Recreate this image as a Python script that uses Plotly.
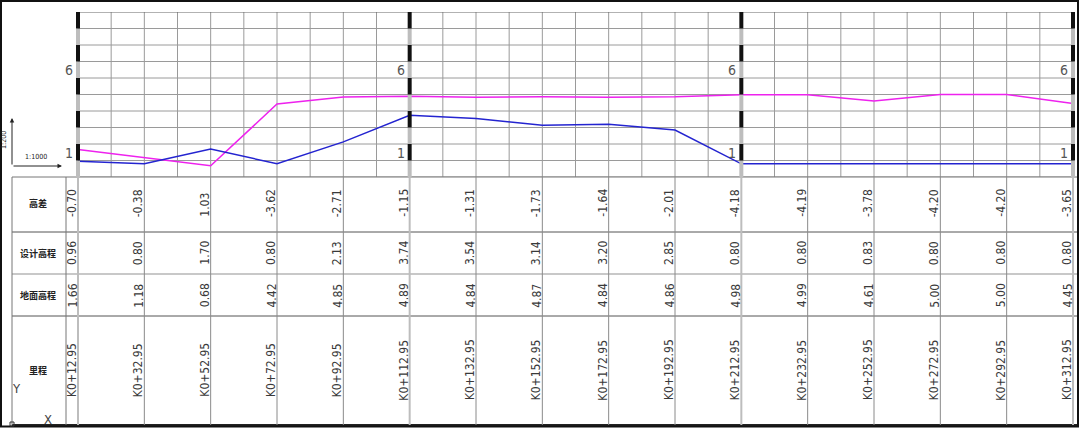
import plotly.graph_objects as go

# 纵断面图 (profile drawing) recreated in plotly

W, H = 1080, 428

stations = [12.95, 32.95, 52.95, 72.95, 92.95, 112.95, 132.95, 152.95,
            172.95, 192.95, 212.95, 232.95, 252.95, 272.95, 292.95, 312.95]
station_labels = ["K0+12.95", "K0+32.95", "K0+52.95", "K0+72.95", "K0+92.95",
                  "K0+112.95", "K0+132.95", "K0+152.95", "K0+172.95", "K0+192.95",
                  "K0+212.95", "K0+232.95", "K0+252.95", "K0+272.95", "K0+292.95",
                  "K0+312.95"]
design = [0.96, 0.80, 1.70, 0.80, 2.13, 3.74, 3.54, 3.14,
          3.20, 2.85, 0.80, 0.80, 0.83, 0.80, 0.80, 0.80]
ground = [1.66, 1.18, 0.68, 4.42, 4.85, 4.89, 4.84, 4.87,
          4.84, 4.86, 4.98, 4.99, 4.61, 5.00, 5.00, 4.45]
height_diff = [-0.70, -0.38, 1.03, -3.62, -2.71, -1.15, -1.31, -1.73,
               -1.64, -2.01, -4.18, -4.19, -3.78, -4.20, -4.20, -3.65]
row_names = ["高差", "设计高程", "地面高程", "里程"]
ruler_stations = [12.95, 112.95, 212.95, 312.95]
ruler_labels = [1, 6]

# pixel geometry of the drawing
PX_PER_M = 995 / 300
X_LEFT = stations[0] - 78 / PX_PER_M
X_RIGHT = X_LEFT + W / PX_PER_M
ELEV_MAX = 10
GRID_STEP = 10
NUM_FONT = "DejaVu Sans Condensed, sans-serif"
CJK_FONT = "Noto Sans CJK SC, sans-serif"


def px(x):
    return x / W


def py(y):
    return 1 - y / H


fig = go.Figure()

fig.add_trace(go.Scatter(x=stations, y=ground, mode="lines",
                         line=dict(color="#ee22ee", width=1.5), hoverinfo="skip"))
fig.add_trace(go.Scatter(x=stations, y=design, mode="lines",
                         line=dict(color="#2424d0", width=1.5), hoverinfo="skip"))

shapes = []
grid = dict(color="#9a9a9a", width=1)

# chart grid
s = stations[0]
while s <= stations[-1] + 0.01:
    shapes.append(dict(type="line", xref="x", yref="y", x0=s, x1=s, y0=0, y1=ELEV_MAX,
                       line=grid, layer="below"))
    s += GRID_STEP
for e in range(ELEV_MAX + 1):
    c = "#666666" if e == ELEV_MAX else "#9a9a9a"
    shapes.append(dict(type="line", xref="x", yref="y", x0=stations[0], x1=stations[-1],
                       y0=e, y1=e, line=dict(color=c, width=1), layer="below"))

# table frame
TABLE_TOP, TABLE_BOT = 177, 425
row_lines = [(232, "#555555", 1), (274, "#c8c8c8", 2), (316, "#555555", 1),
             (TABLE_TOP, "#777777", 1), (TABLE_BOT, "#222222", 2)]
for y, c, w in row_lines:
    shapes.append(dict(type="line", xref="paper", yref="paper", x0=px(12), x1=px(1078),
                       y0=py(y), y1=py(y), line=dict(color=c, width=w)))
for x in (12, 66):
    shapes.append(dict(type="line", xref="paper", yref="paper", x0=px(x), x1=px(x),
                       y0=py(TABLE_TOP), y1=py(TABLE_BOT), line=dict(color="#777777", width=1)))
for s in stations:
    if s in ruler_stations:
        continue
    shapes.append(dict(type="line", xref="x", yref="paper", x0=s, x1=s,
                       y0=py(TABLE_TOP), y1=py(TABLE_BOT), line=dict(color="#8a8a8a", width=1)))

# elevation rulers
for s in ruler_stations:
    shapes.append(dict(type="line", xref="x", yref="paper", x0=s, x1=s,
                       y0=py(TABLE_TOP), y1=py(TABLE_BOT), line=dict(color="#bdbdbd", width=2)))
    for k in range(ELEV_MAX):
        c = "#111111" if k % 2 == 1 else "#bdbdbd"
        shapes.append(dict(type="line", xref="x", yref="y", x0=s, x1=s, y0=k, y1=k + 1,
                           line=dict(color=c, width=4)))

# outer frame and ucs square
shapes.append(dict(type="rect", xref="paper", yref="paper", x0=px(1), x1=px(1078),
                   y0=py(426.5), y1=py(1), line=dict(color="#111111", width=2)))
shapes.append(dict(type="rect", xref="paper", yref="paper", x0=px(10), x1=px(14),
                   y0=py(426), y1=py(422), line=dict(color="#333333", width=1)))

ann = []
num_font = dict(family=NUM_FONT, size=12, color="#3a3a3a")

for s in ruler_stations:
    for v in ruler_labels:
        ann.append(dict(x=s, y=v, xref="x", yref="y", text=str(v), showarrow=False,
                        xanchor="right", yanchor="bottom", xshift=-3, yshift=-2,
                        font=dict(family=NUM_FONT, size=14, color="#555555")))

for i, s in enumerate(stations):
    ann.append(dict(x=s, y=py(219), xref="x", yref="paper", text=f"{height_diff[i]:.2f}",
                    showarrow=False, textangle=-90, xanchor="center", yanchor="bottom",
                    xshift=-6, font=num_font))
    ann.append(dict(x=s, y=py(253), xref="x", yref="paper", text=f"{design[i]:.2f}",
                    showarrow=False, textangle=-90, xanchor="center", yanchor="middle",
                    xshift=-6, font=num_font))
    ann.append(dict(x=s, y=py(295.5), xref="x", yref="paper", text=f"{ground[i]:.2f}",
                    showarrow=False, textangle=-90, xanchor="center", yanchor="middle",
                    xshift=-6, font=num_font))
    ann.append(dict(x=s, y=py(370), xref="x", yref="paper", text=station_labels[i],
                    showarrow=False, textangle=-90, xanchor="center", yanchor="middle",
                    xshift=-6, font=num_font))

for name, y in zip(row_names, (204, 253, 295, 370)):
    ann.append(dict(x=px(38), y=py(y), xref="paper", yref="paper", text=f"<b>{name}</b>",
                    showarrow=False, xanchor="center", yanchor="middle",
                    font=dict(family=CJK_FONT, size=9, color="#222222")))

# scale marker
ann.append(dict(x=px(12), y=py(118), xref="paper", yref="paper", text="", showarrow=True,
                ax=0, ay=48, arrowhead=2, arrowsize=0.9, arrowwidth=1, arrowcolor="#222222"))
ann.append(dict(x=px(62), y=py(166), xref="paper", yref="paper", text="", showarrow=True,
                ax=-50, ay=0, arrowhead=2, arrowsize=0.9, arrowwidth=1, arrowcolor="#222222"))
ann.append(dict(x=px(4), y=py(140), xref="paper", yref="paper", text="1:200", textangle=-90,
                showarrow=False, xanchor="center", yanchor="middle",
                font=dict(family=NUM_FONT, size=7, color="#222222")))
ann.append(dict(x=px(36), y=py(157), xref="paper", yref="paper", text="1:1000",
                showarrow=False, xanchor="center", yanchor="middle",
                font=dict(family=NUM_FONT, size=7, color="#222222")))

# ucs icon
ann.append(dict(x=px(16), y=py(388), xref="paper", yref="paper", text="Y", showarrow=False,
                xanchor="center", yanchor="middle",
                font=dict(family=NUM_FONT, size=13, color="#444444")))
ann.append(dict(x=px(48), y=py(419), xref="paper", yref="paper", text="X", showarrow=False,
                xanchor="center", yanchor="middle",
                font=dict(family=NUM_FONT, size=13, color="#444444")))

fig.update_layout(
    width=W, height=H,
    margin=dict(l=0, r=0, t=0, b=0),
    paper_bgcolor="white", plot_bgcolor="white",
    showlegend=False,
    xaxis=dict(range=[X_LEFT, X_RIGHT], domain=[0, 1], visible=False, fixedrange=True),
    yaxis=dict(range=[0, ELEV_MAX], domain=[py(TABLE_TOP), py(12)], visible=False,
               fixedrange=True),
    shapes=shapes,
    annotations=ann,
)

fig.write_html("out.html", config={"displayModeBar": False},
               post_script="document.body.style.margin='0';")
